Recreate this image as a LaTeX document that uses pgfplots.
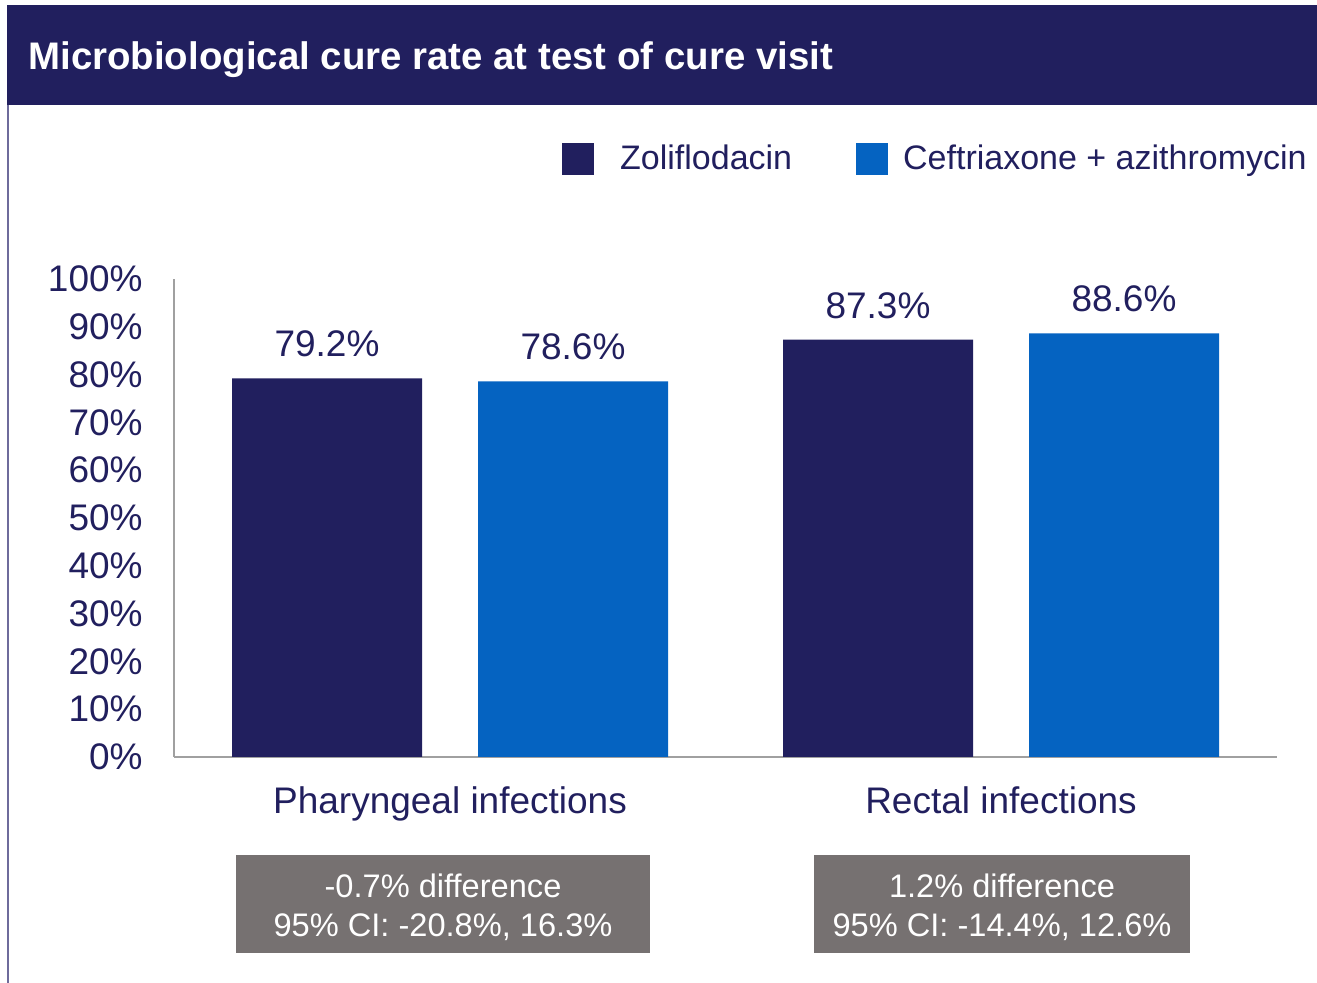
\documentclass[border=0pt]{standalone}
\usepackage{fontspec}
\setmainfont{Liberation Sans}
\usepackage{pgfplots}
\pgfplotsset{compat=1.18}
\definecolor{navy}{HTML}{211F5E}
\definecolor{cblue}{HTML}{0563C1}
\definecolor{cgray}{HTML}{767171}
\definecolor{bord}{HTML}{6E6B9B}
\definecolor{axgray}{HTML}{A0A0A0}
\begin{document}
\begin{tikzpicture}
\path[use as bounding box] (0,0) rectangle (658.5pt,491.5pt);
\begin{scope}[x=0.5pt,y=-0.5pt,yshift=491.5pt]
 \fill[navy] (7,5) rectangle (1317,105);
 \draw[bord, line width=1pt] (8,105) -- (8,983);
 \node[anchor=base west, text=white, inner sep=0pt, font=\bfseries\fontsize{19.2}{23}\selectfont] at (28,70) {Microbiological cure rate at test of cure visit};
 \fill[cgray] (236,855) rectangle (650,953);
 \node[align=center, text=white, font=\fontsize{16.3}{19.5}\selectfont] at (443,907) {-0.7\% difference\\95\% CI: -20.8\%, 16.3\%};
 \fill[cgray] (814,855) rectangle (1190,953);
 \node[align=center, text=white, font=\fontsize{16.3}{19.5}\selectfont] at (1002,907) {1.2\% difference\\95\% CI: -14.4\%, 12.6\%};
\end{scope}
\begin{axis}[at={(87pt,113pt)}, anchor=south west, scale only axis,
  width=551.5pt, height=239pt,
  xmin=174, xmax=1277, ymin=0, ymax=100, enlargelimits=false, clip=false,
  axis x line=bottom, axis y line=left,
  axis line style={axgray, line width=1pt, -},
  ybar, bar width=95pt, bar shift=0pt,
  major tick length=0pt,
  xtick={450,1001}, xticklabels={Pharyngeal infections, Rectal infections},
  ytick={0,10,20,30,40,50,60,70,80,90,100},
  yticklabels={0\%,10\%,20\%,30\%,40\%,50\%,60\%,70\%,80\%,90\%,100\%},
  tick label style={font=\fontsize{18.5}{22}\selectfont, text=navy},
  yticklabel style={anchor=east, inner sep=0pt, xshift=-15.5pt},
  xticklabel style={anchor=base, inner sep=0pt, yshift=-28.5pt},
  point meta=explicit symbolic,
  nodes near coords,
  nodes near coords style={font=\fontsize{18.5}{22}\selectfont, text=navy, anchor=base, inner sep=0pt, yshift=10.8pt},
  legend image code/.code={\fill[#1] (0pt,-8pt) rectangle (16pt,8pt);},
  legend columns=2,
  legend style={at={(axis description cs:1.0272,1.251)}, anchor=east, draw=none, fill=none,
    font=\fontsize{17}{20}\selectfont, text=navy, inner sep=0pt, nodes={inner sep=0pt},
    /tikz/column 1/.style={column sep=13pt},
    /tikz/column 2/.style={column sep=32pt},
    /tikz/column 3/.style={column sep=7.5pt}},
]
\addplot[fill=navy, draw=none] coordinates {(327,79.2)[79.2\%] (878,87.3)[87.3\%]};
\addplot[fill=cblue, draw=none] coordinates {(573,78.6)[78.6\%] (1124,88.6)[88.6\%]};
\legend{Zoliflodacin, Ceftriaxone + azithromycin}
\end{axis}
\end{tikzpicture}
\end{document}
